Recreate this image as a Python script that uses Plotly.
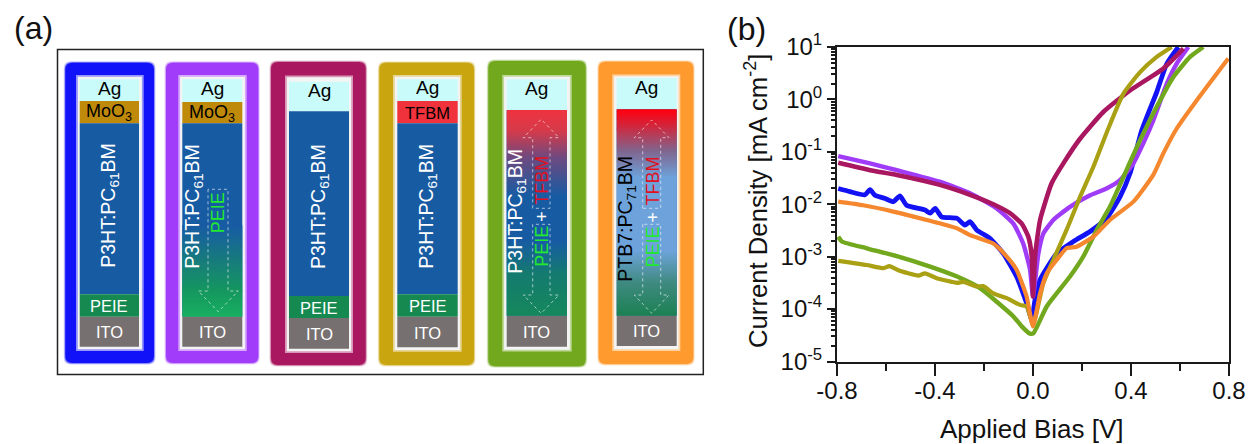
import plotly.graph_objects as go

W, H = 1249, 444
FONT = "Liberation Sans"

# ---------- panel (b) data: applied bias [V] and log10 of current density [mA cm-2]
blue_v = [-0.795,-0.747,-0.686,-0.665,-0.645,-0.604,-0.57,-0.543,-0.516,-0.441,-0.42,-0.399,-0.373,-0.31,-0.278,-0.257,-0.23,-0.176,-0.121,-0.067,-0.026,-0.005,0.008,0.029,0.097,0.165,0.233,0.30,0.355,0.396,0.444,0.505,0.546,0.593]
blue_log = [-1.70,-1.76,-1.82,-1.72,-1.83,-1.89,-1.95,-1.84,-2.02,-2.11,-2.17,-2.08,-2.24,-2.27,-2.40,-2.33,-2.49,-2.65,-2.94,-3.38,-3.89,-4.2,-3.83,-3.44,-2.94,-2.71,-2.52,-2.27,-1.86,-1.41,-0.59,0.14,0.68,1.0]

purple_v = [-0.795,-0.665,-0.556,-0.38,-0.257,-0.148,-0.08,-0.04,-0.012,0,0.022,0.042,0.083,0.151,0.233,0.30,0.355,0.41,0.45,0.491,0.546,0.586,0.634]
purple_log = [-1.08,-1.22,-1.35,-1.57,-1.79,-2.08,-2.37,-2.75,-3.25,-3.76,-2.94,-2.56,-2.30,-2.05,-1.83,-1.70,-1.54,-1.22,-0.84,-0.40,0.30,0.68,1.0]

green_v = [-0.795,-0.78,-0.679,-0.556,-0.42,-0.31,-0.216,-0.148,-0.08,-0.046,-0.012,0.002,0.056,0.151,0.205,0.26,0.314,0.369,0.437,0.505,0.573,0.641,0.695]
green_log = [-2.62,-2.71,-2.84,-2.99,-3.19,-3.38,-3.60,-3.86,-4.14,-4.33,-4.47,-4.46,-3.95,-3.38,-3.0,-2.49,-2.05,-1.48,-0.78,-0.14,0.43,0.81,1.0]

maroon_v = [-0.795,-0.665,-0.556,-0.38,-0.257,-0.162,-0.094,-0.046,-0.019,-0.005,0,0.008,0.029,0.076,0.124,0.192,0.287,0.396,0.532,0.614]
maroon_log = [-1.21,-1.35,-1.44,-1.63,-1.82,-2.0,-2.17,-2.37,-2.62,-3.0,-3.76,-3.0,-2.30,-1.6,-1.22,-0.75,-0.24,0.17,0.59,0.97]

olive_v = [-0.795,-0.679,-0.61,-0.586,-0.544,-0.468,-0.441,-0.393,-0.31,-0.284,-0.23,-0.203,-0.162,-0.107,-0.053,-0.026,0,0.042,0.083,0.137,0.192,0.246,0.307,0.369,0.437,0.505,0.566]
olive_log = [-3.08,-3.16,-3.22,-3.18,-3.27,-3.36,-3.32,-3.41,-3.5,-3.48,-3.57,-3.56,-3.70,-3.79,-3.92,-3.95,-4.30,-3.51,-3.06,-2.49,-1.86,-1.29,-0.56,0.11,0.52,0.81,1.0]

orange_v = [-0.795,-0.693,-0.57,-0.434,-0.31,-0.257,-0.162,-0.107,-0.067,-0.026,0,0.029,0.056,0.097,0.137,0.178,0.246,0.314,0.41,0.491,0.532,0.586,0.668,0.797]
orange_log = [-1.95,-2.02,-2.14,-2.30,-2.46,-2.59,-2.75,-3.0,-3.25,-3.76,-4.33,-3.70,-3.32,-3.06,-2.84,-2.81,-2.62,-2.30,-1.95,-1.44,-1.03,-0.56,-0.02,0.78]

series = [
    ("blue", blue_v, blue_log, "#1212F5", 4.8),
    ("purple", purple_v, purple_log, "#A03CF8", 4.4),
    ("green", green_v, green_log, "#72A81E", 4.4),
    ("maroon", maroon_v, maroon_log, "#A8175F", 4.6),
    ("olive", olive_v, olive_log, "#AAA014", 4.2),
    ("orange", orange_v, orange_log, "#F5872F", 4.2),
]

x_tick_vals = [-0.8, -0.4, 0.0, 0.4, 0.8]
x_tick_text = ["-0.8", "-0.4", "0.0", "0.4", "0.8"]
x_minor_vals = [-0.6, -0.2, 0.2, 0.6]
y_tick_vals = [1e-5, 1e-4, 1e-3, 1e-2, 1e-1, 1e0, 1e1]
y_tick_text = ["10<sup>-5</sup>", "10<sup>-4</sup>", "10<sup>-3</sup>", "10<sup>-2</sup>", "10<sup>-1</sup>", "10<sup>0</sup>", "10<sup>1</sup>"]
y_minor_vals = [m * d for d in y_tick_vals[:-1] for m in (2, 3, 4, 5, 6, 7, 8, 9)]

# ---------- panel (a) device stacks
frame_colors = ["#1212F8", "#A03CFA", "#A8175F", "#C9A50F", "#72A81E", "#FF9A2F"]
outer_x = [(64.3, 155), (165, 259.3), (270, 366.7), (378.3, 475), (487.3, 586.7), (597.7, 694.3)]
outer_y = [(61.7, 364), (61.7, 364), (61, 366), (61.7, 366), (60, 367.3), (60.7, 365)]
inner_x = [(77, 142.7), (179.3, 245.7), (286, 352), (394, 460.7), (503.3, 570.7), (613.3, 679.3)]
inner_y = [(76, 350), (76, 350), (76.5, 352), (76, 350.7), (76, 350.5), (75.5, 350)]
stack_x = [(79.7, 139), (182.3, 242.3), (289, 349), (397.3, 457.7), (506.7, 567), (616.7, 676.7)]
ag_label_y = [88.5, 88.5, 90, 88, 88.5, 88]

AG, MOO, BULK, PEIE, ITO, TFBM = "#C8FBFA", "#BF8A0A", "#175BA3", "#15894F", "#767070", "#F0323C"
layers = [
    [("Ag", AG, 79.3, 101, "#000"), ("MoO<sub>3</sub>", MOO, 101, 123.3, "#000"), (None, BULK, 123.3, 294.3, None), ("PEIE", PEIE, 294.3, 316.7, "#fff"), ("ITO", ITO, 316.7, 346.7, "#fff")],
    [("Ag", AG, 79.3, 102, "#000"), ("MoO<sub>3</sub>", MOO, 102, 123.3, "#000"), (None, BULK, 123.3, 316.5, None), ("ITO", ITO, 316.5, 346.7, "#fff")],
    [("Ag", AG, 81.7, 111.3, "#000"), (None, BULK, 111.3, 296, None), ("PEIE", PEIE, 296, 318, "#fff"), ("ITO", ITO, 318, 348.7, "#fff")],
    [("Ag", AG, 79.3, 101, "#000"), ("TFBM", TFBM, 101, 123.3, "#000"), (None, BULK, 123.3, 294.3, None), ("PEIE", PEIE, 294.3, 316.7, "#fff"), ("ITO", ITO, 316.7, 347.3, "#fff")],
    [("Ag", AG, 79.3, 110, "#000"), (None, BULK, 110, 315.7, None), ("ITO", ITO, 315.7, 346.7, "#fff")],
    [("Ag", AG, 78, 109.3, "#000"), (None, BULK, 109.3, 315.7, None), ("ITO", ITO, 315.7, 346, "#fff")],
]
gradients = {
    1: [(225, "#175BA3"), (257, "#17797F"), (290, "#15975F"), (316.5, "#17B060")],
    4: [(110, "#EE3340"), (130, "#D53A4A"), (157, "#6D4A80"), (195, "#175BA3"), (240, "#175BA3"), (272, "#147A70"), (315.7, "#15885A")],
    5: [(109.3, "#FF0010"), (128, "#C82E45"), (150, "#80658F"), (177, "#6DA3DA"), (250, "#6DA3DA"), (282, "#3F8A80"), (315.7, "#1A8050")],
}
bulk_label_text = ["P3HT:PC<sub>61</sub>BM"] * 5 + ["PTB7:PC<sub>71</sub>BM"]
bulk_label_color = ["#fff"] * 5 + ["#000"]
bulk_label_x = [110, 193.3, 319, 428, 516.7, 626.7]
bulk_label_y = [205.8, 206.5, 207, 205.7, 211, 219]

# rotated dopant labels: text, colour, x, y
dopant_labels = [
    ("PEIE", "#22E830", 218.3, 213),
    ("PEIE", "#22E830", 542, 246.7), ("+", "#fff", 542, 216.7), ("TFBM", "#E0101E", 542, 180.8),
    ("PEIE", "#22E830", 652.7, 246.7), ("+", "#fff", 652.7, 216.7), ("TFBM", "#E0101E", 652.7, 180.7),
]
# block arrows: shaft left, shaft right, wing left, wing right, base y, neck y, tip y
arrows = [
    (208, 228, 198.3, 238.3, 189.3, 291, 311.7),
    (532.7, 550, 523.3, 559, 208.3, 137.7, 119.3),
    (532.7, 550, 523.3, 559, 224.3, 295, 313.3),
    (642.7, 660.7, 634.3, 669, 208.3, 137.7, 120),
    (642.7, 660.7, 634.3, 669, 224.3, 295, 313.3),
]


def px(x):
    return x / W


def py(y):
    return 1 - y / H


def rect(x0, y0, x1, y1, fill, opacity=1):
    return dict(type="rect", xref="paper", yref="paper", x0=px(x0), x1=px(x1), y0=py(y0), y1=py(y1),
                fillcolor=fill, line=dict(width=0), opacity=opacity)


def rounded(x0, y0, x1, y1, r, fill, opacity=1):
    X0, X1, Y0, Y1 = px(x0), px(x1), py(y0), py(y1)
    rx, ry = r / W, r / H
    path = (f"M{X0+rx},{Y0} L{X1-rx},{Y0} Q{X1},{Y0} {X1},{Y0-ry} L{X1},{Y1+ry} Q{X1},{Y1} {X1-rx},{Y1} "
            f"L{X0+rx},{Y1} Q{X0},{Y1} {X0},{Y1+ry} L{X0},{Y0-ry} Q{X0},{Y0} {X0+rx},{Y0} Z")
    return dict(type="path", xref="paper", yref="paper", path=path, fillcolor=fill, line=dict(width=0), opacity=opacity)


def hex_rgb(c):
    return tuple(int(c[i:i + 2], 16) for i in (1, 3, 5))


def mix(a, b, t):
    ra, rb = hex_rgb(a), hex_rgb(b)
    return "#%02x%02x%02x" % tuple(round(p + (q - p) * t) for p, q in zip(ra, rb))


shapes = []
annotations = []


def label(text, x, y, size, color="#000", angle=0, xanchor="center"):
    annotations.append(dict(text=text, x=px(x), y=py(y), xref="paper", yref="paper", showarrow=False,
                            xanchor=xanchor, yanchor="middle", textangle=angle,
                            font=dict(family=FONT, size=size, color=color)))


for i, col in enumerate(frame_colors):
    x0, x1 = outer_x[i]
    y0, y1 = outer_y[i]
    for grow, op in ((1.5, 0.22), (0.7, 0.45), (0, 1)):
        shapes.append(rounded(x0 + 1 - grow, y0 + 1 - grow, x1 - 1 + grow, y1 - 1 + grow, 7, col, op))
    ix0, ix1 = inner_x[i]
    iy0, iy1 = inner_y[i]
    shapes.append(rect(ix0 - 1, iy0 - 1, ix1 + 1, iy1 + 1, mix(col, "#ffffff", 0.55)))
    shapes.append(rect(ix0 + 0.8, iy0 + 0.8, ix1 - 0.8, iy1 - 0.8, "#F4F4F4"))
    sx0, sx1 = stack_x[i]
    for text, fill, ly0, ly1, tcol in layers[i]:
        shapes.append(rect(sx0, ly0, sx1, ly1, fill))
        if text == "Ag":
            label(text, (sx0 + sx1) / 2, ag_label_y[i], 19, tcol)
        elif text:
            size = 18 if text.startswith("MoO") else 16.5
            label(text, (sx0 + sx1) / 2, (ly0 + ly1) / 2 + 0.5, size, tcol)
    if i in gradients:
        stops = gradients[i]
        for (a, ca), (b, cb) in zip(stops, stops[1:]):
            y = a
            while y < b:
                t = (y - a) / (b - a)
                shapes.append(rect(sx0, y, sx1, min(y + 2.6, stops[-1][0]), mix(ca, cb, t)))
                y += 2
    label(bulk_label_text[i], bulk_label_x[i], bulk_label_y[i], 19.5, bulk_label_color[i], -90)

for sl, sr, wl, wr, base, neck, tip in arrows:
    cx = (wl + wr) / 2
    p = (f"M{px(sl)},{py(base)} L{px(sl)},{py(neck)} L{px(wl)},{py(neck)} L{px(cx)},{py(tip)} "
         f"L{px(wr)},{py(neck)} L{px(sr)},{py(neck)} L{px(sr)},{py(base)} Z")
    shapes.append(dict(type="path", xref="paper", yref="paper", path=p, fillcolor="rgba(0,0,0,0)",
                       line=dict(color="rgba(255,255,255,0.75)", width=0.8, dash="dot")))

for text, color, x, y in dopant_labels:
    label(text, x, y, 18, color, -90)

# outer box of panel (a)
shapes.append(dict(type="rect", xref="paper", yref="paper", x0=px(57.5), x1=px(703.3), y0=py(49.5), y1=py(374.5),
                   line=dict(color="#222", width=1.5), fillcolor="rgba(0,0,0,0)", layer="below"))

label("(a)", 12, 28, 32, "#111", xanchor="left")
label("(b)", 725, 29, 32, "#111", xanchor="left")
label("Current Density [mA cm<sup>-2</sup>]", 756, 201, 25.7, "#111", -90)
label("Applied Bias [V]", 1032, 428.5, 26, "#111")

fig = go.Figure()
for name, v, logj, color, width in series:
    fig.add_trace(go.Scatter(x=v, y=[10 ** k for k in logj], mode="lines", name=name,
                             line=dict(color=color, width=width, shape="spline", smoothing=0.5), showlegend=False))

axis_line = dict(showline=True, linecolor="#1a1a1a", linewidth=2, mirror=True, showgrid=False, zeroline=False,
                 tickcolor="#1a1a1a", tickwidth=2, ticks="outside", automargin=False,
                 tickfont=dict(family=FONT, size=24, color="#111"))

fig.update_layout(
    template="none",
    width=W, height=H, margin=dict(l=0, r=0, t=0, b=0, autoexpand=False), autosize=False,
    paper_bgcolor="white", plot_bgcolor="white", showlegend=False,
    shapes=shapes, annotations=annotations,
    xaxis=dict(domain=[837 / W, 1229 / W], range=[-0.8, 0.8], tickmode="array", tickvals=x_tick_vals, ticktext=x_tick_text,
               ticklen=12, ticklabelstandoff=-5,
               minor=dict(tickmode="array", tickvals=x_minor_vals, ticks="outside", ticklen=7, tickwidth=2, tickcolor="#1a1a1a"),
               **axis_line),
    yaxis=dict(domain=[1 - 361.5 / H, 1 - 47 / H], type="log", range=[-5, 1], tickmode="array", tickvals=y_tick_vals, ticktext=y_tick_text,
               ticklen=8, minor=dict(tickmode="array", tickvals=y_minor_vals, ticks="outside", ticklen=4, tickwidth=1.5, tickcolor="#1a1a1a"),
               **axis_line),
)

fig.write_html("out.html", config=dict(displayModeBar=False),
               post_script="document.body.style.margin='0';document.body.style.overflow='hidden';")
